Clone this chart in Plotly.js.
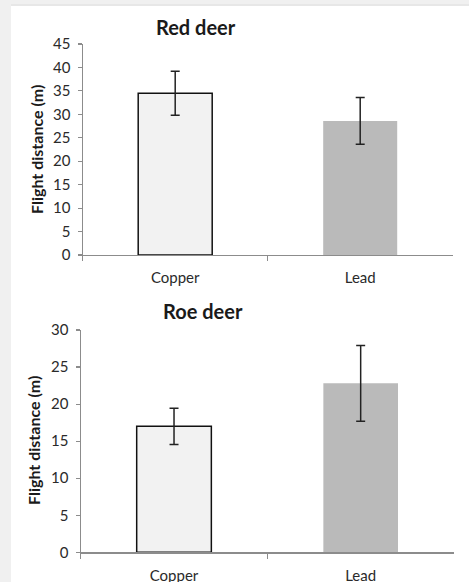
<!DOCTYPE html>
<html><head><meta charset="utf-8">
<script src="https://cdn.plot.ly/plotly-3.0.1.min.js"></script>
<style>
html,body{margin:0;padding:0;background:#f0f0f0;width:469px;height:582px;overflow:hidden;}
#frame{position:absolute;left:0;top:0;width:469px;height:582px;}
</style></head><body>
<div id="frame"></div>
<script>
const categories = ["Copper", "Lead"];
const redDeerMeans = [34.5, 28.6];
const redDeerErr = [4.7, 5.0];
const roeDeerMeans = [17.0, 22.8];
const roeDeerErr = [2.45, 5.1];
const redTicks = [0,5,10,15,20,25,30,35,40,45];
const roeTicks = [0,5,10,15,20,25,30];
const barColors = ["#f2f2f2", "#bababa"];
const barLines = ["#111111", "rgba(0,0,0,0)"];

const W = 469, H = 582;
const px = v => v / W;
const py = v => 1 - v / H;
const font = "Lato, 'Open Sans', sans-serif";

function barTrace(y, err, xa, ya) {
  return {
    type: "bar", x: categories, y: y, xaxis: xa, yaxis: ya, width: 0.4,
    marker: {color: barColors, line: {color: barLines, width: 1.5}},
    error_y: {type: "data", array: err, visible: true, color: "#222", thickness: 1.5, width: 4.5},
    hoverinfo: "skip", showlegend: false
  };
}

const axX = (domain, anchor) => ({
  domain: domain, anchor: anchor, type: "category",
  showline: true, linecolor: "#8c8c8c", linewidth: 1.2,
  ticks: "outside", tickson: "boundaries", ticklen: 5, tickcolor: "#8c8c8c", tickwidth: 1.2,
  ticklabelstandoff: 9,
  tickfont: {family: font, size: 15, color: "#2a2a2a"},
  showgrid: false, zeroline: false, fixedrange: true
});
const axY = (domain, anchor, range, ticks) => ({
  domain: domain, anchor: anchor, range: range,
  tickvals: ticks, ticktext: ticks.map(String),
  showline: true, linecolor: "#8c8c8c", linewidth: 1.2,
  ticks: "outside", ticklen: 4, tickcolor: "#8c8c8c", tickwidth: 1.2,
  ticklabelstandoff: 4,
  tickfont: {family: font, size: 15, color: "#2a2a2a"},
  showgrid: false, zeroline: false, fixedrange: true
});

const data = [
  barTrace(redDeerMeans, redDeerErr, "x", "y"),
  barTrace(roeDeerMeans, roeDeerErr, "x2", "y2")
];

const ann = (text, x, y, size, angle) => ({
  text: text, xref: "paper", yref: "paper", x: px(x), y: py(y),
  xanchor: "center", yanchor: "middle", showarrow: false, textangle: angle || 0,
  font: {family: font, size: size, color: "#1a1a1a"}
});

const layout = {
  width: W, height: H,
  margin: {l: 0, r: 0, t: 0, b: 0},
  paper_bgcolor: "rgba(0,0,0,0)", plot_bgcolor: "rgba(0,0,0,0)",
  bargap: 0.6,
  xaxis: axX([px(82.7), px(452.7)], "y"),
  yaxis: axY([py(255), py(44)], "x", [0, 45], redTicks),
  xaxis2: axX([px(80.7), px(454)], "y2"),
  yaxis2: axY([py(552.3), py(330)], "x2", [0, 30], roeTicks),
  shapes: [
    {type: "rect", xref: "paper", yref: "paper", x0: px(11), x1: px(469), y0: py(582), y1: py(6),
     fillcolor: "#ffffff", line: {width: 0}, layer: "below"},
    {type: "line", xref: "paper", yref: "paper", x0: px(11), x1: px(469), y0: py(5), y1: py(5),
     line: {color: "#e4e4e4", width: 1.5}, layer: "below"}
  ],
  annotations: [
    ann("<b>Red deer</b>", 196, 27, 20),
    ann("<b>Roe deer</b>", 203, 310.5, 20),
    ann("<b>Flight distance (m)</b>", 37, 150, 16, -90),
    ann("<b>Flight distance (m)</b>", 33.5, 440.5, 16, -90)
  ]
};

Plotly.newPlot("frame", data, layout, {staticPlot: true, displayModeBar: false});
</script></body></html>
